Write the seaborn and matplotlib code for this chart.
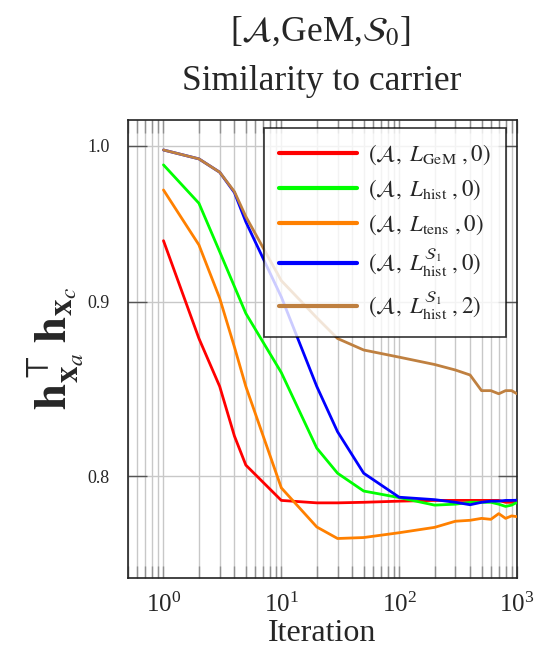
import numpy as np
import pandas as pd
import matplotlib
matplotlib.use("Agg")
import matplotlib.pyplot as plt
import matplotlib.ticker as mticker
import seaborn as sns

# Iterations at which the similarity was recorded
iterations = [1, 2, 3, 4, 5, 10, 20, 30, 50, 100, 200, 300, 400, 500, 600, 700, 800, 900, 1000]

sim_gem = [0.938, 0.878, 0.850, 0.822, 0.806, 0.787, 0.7857, 0.7857, 0.786, 0.7866,
           0.787, 0.787, 0.787, 0.787, 0.787, 0.787, 0.786, 0.786, 0.786]
sim_hist = [0.9873, 0.962, 0.931, 0.9094, 0.893, 0.858, 0.8153, 0.8016, 0.792, 0.7885,
            0.7845, 0.785, 0.786, 0.786, 0.786, 0.785, 0.7838, 0.7845, 0.786]
sim_tens = [0.9707, 0.9353, 0.9022, 0.873, 0.850, 0.7937, 0.773, 0.767, 0.7675, 0.770,
            0.7728, 0.776, 0.7765, 0.7775, 0.777, 0.780, 0.7775, 0.7788, 0.7784]
sim_hist_s1 = [0.9973, 0.9913, 0.9824, 0.969, 0.950, 0.903, 0.850, 0.8244, 0.8016, 0.7887,
               0.7874, 0.786, 0.7847, 0.786, 0.7866, 0.7866, 0.787, 0.787, 0.7871]
sim_hist_s1_2 = [0.9973, 0.9913, 0.9824, 0.9696, 0.9534, 0.913, 0.8904, 0.878, 0.8712, 0.867,
                 0.8627, 0.8595, 0.8566, 0.8476, 0.8476, 0.8458, 0.8476, 0.8476, 0.8458]

labels = [
    r"$(\mathcal{A},\ L_{\mathrm{GeM}}\ ,0)$",
    r"$(\mathcal{A},\ L_{\mathrm{hist}}\ ,0)$",
    r"$(\mathcal{A},\ L_{\mathrm{tens}}\ ,0)$",
    r"$(\mathcal{A},\ L_{\mathrm{hist}}^{\mathcal{S}_1}\ ,0)$",
    r"$(\mathcal{A},\ L_{\mathrm{hist}}^{\mathcal{S}_1}\ ,2)$",
]
series = [sim_gem, sim_hist, sim_tens, sim_hist_s1, sim_hist_s1_2]
colors = ["#ff0000", "#00ff00", "#ff8000", "#0000ff", "#bf8040"]

df = pd.concat(
    [pd.DataFrame({"Iteration": iterations, "sim": vals, "method": lab})
     for lab, vals in zip(labels, series)],
    ignore_index=True,
)

sns.set_theme(style="white")
plt.rcParams["font.family"] = ["Liberation Serif", "DejaVu Serif"]
plt.rcParams["mathtext.fontset"] = "stix"

fig = plt.figure(figsize=(5.59, 6.54), dpi=100)
ax = fig.add_axes([128 / 559, 1 - 577.6 / 654, (517 - 128) / 559, (577.6 - 120) / 654])

sns.lineplot(data=df, x="Iteration", y="sim", hue="method", hue_order=labels,
             palette=colors, linewidth=2.0, ax=ax, legend=True, zorder=3)

ax.set_xscale("log")
ax.set_yscale("log")
ax.set_xlim(0.5, 1000)
ax.set_ylim(0.747, 1.0177)

# x axis: decades with minor ticks
ax.xaxis.set_major_locator(mticker.LogLocator(base=10, numticks=10))
ax.xaxis.set_minor_locator(mticker.LogLocator(base=10, subs=np.arange(2, 10), numticks=20))
ax.xaxis.set_major_formatter(mticker.LogFormatterSciNotation())
ax.xaxis.set_minor_formatter(mticker.NullFormatter())

# y axis: fixed ticks on a log scale
ax.yaxis.set_major_locator(mticker.FixedLocator([0.8, 0.9, 1.0]))
ax.yaxis.set_minor_locator(mticker.NullLocator())
ax.yaxis.set_major_formatter(mticker.FixedFormatter(["0.8", "0.9", "1.0"]))

ax.grid(True, which="major", axis="both", color="#c8c8c8", linewidth=1.0, zorder=0)
ax.grid(True, which="minor", axis="x", color="#c8c8c8", linewidth=1.0, zorder=0)

ax.tick_params(axis="x", which="both", direction="in", top=True, bottom=True,
               length=9, width=1.0, color="#909090", labelsize=18, pad=11)
ax.tick_params(axis="y", which="major", direction="in", left=True, right=True,
               length=14, width=1.0, color="#555555", labelsize=13, pad=13)

for sp in ax.spines.values():
    sp.set_color("#222222")
    sp.set_linewidth(1.2)

ax.set_xlabel("Iteration", fontsize=23, labelpad=1)
ax.set_ylabel(r"$\mathbf{h}_{\mathbf{x}_a}^{\top}\,\mathbf{h}_{\mathbf{x}_c}$", fontsize=34, labelpad=2)

fig.text(320 / 559, 1 - 32 / 654, r"[$\mathcal{A}$,GeM,$\mathcal{S}_0$]",
         ha="center", va="center", fontsize=25.5)
fig.text(322 / 559, 1 - 82 / 654, "Similarity to carrier",
         ha="center", va="center", fontsize=25.5)

leg = ax.legend(loc="upper right", bbox_to_anchor=(0.972, 0.9825), fontsize=16.5,
                frameon=True, fancybox=False, framealpha=0.8, edgecolor="black",
                handlelength=3.4, labelspacing=0.45, borderpad=0.65, handletextpad=0.5,
                borderaxespad=0.0)
leg.get_frame().set_linewidth(1.2)
for line in leg.get_lines():
    line.set_linewidth(3.0)
leg.set_zorder(5)

fig.savefig("out.png", dpi=100)
